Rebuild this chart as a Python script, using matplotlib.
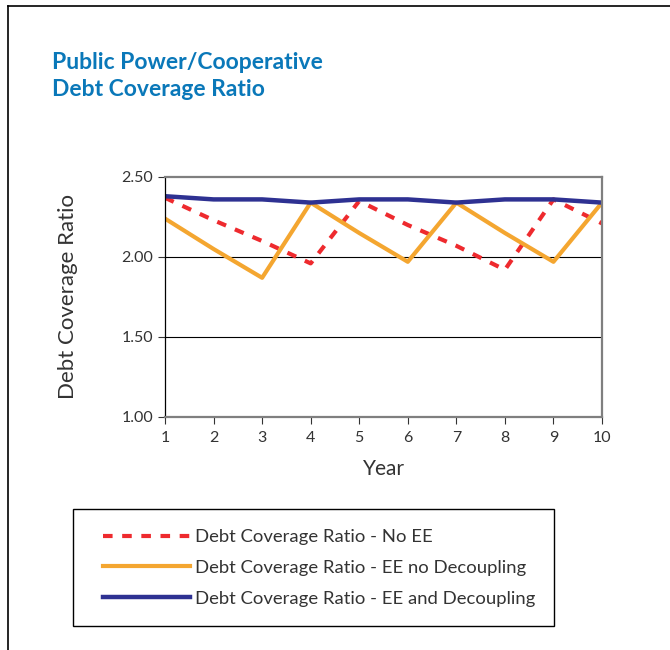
import matplotlib
matplotlib.use("Agg")
import matplotlib.pyplot as plt
from matplotlib.lines import Line2D
from matplotlib.patches import Rectangle

years = [1, 2, 3, 4, 5, 6, 7, 8, 9, 10]
no_ee = [2.37, 2.23, 2.10, 1.96, 2.35, 2.20, 2.07, 1.92, 2.36, 2.21]
ee_no_decoupling = [2.24, 2.05, 1.87, 2.34, 2.15, 1.97, 2.34, 2.15, 1.97, 2.34]
ee_decoupling = [2.38, 2.36, 2.36, 2.34, 2.36, 2.36, 2.34, 2.36, 2.36, 2.34]
y_ticks = [1.00, 1.50, 2.00, 2.50]
labels = ["Debt Coverage Ratio - No EE",
          "Debt Coverage Ratio - EE no Decoupling",
          "Debt Coverage Ratio - EE and Decoupling"]
title = "Public Power/Cooperative\nDebt Coverage Ratio"

plt.rcParams['font.family'] = ['Lato', 'DejaVu Sans']
W, H = 670, 650
fig = plt.figure(figsize=(W / 100, H / 100), dpi=100)

def fx(px):
    return px / W

def fy(py):
    return 1 - py / H

# outer frame (left and top)
fig.add_artist(Line2D([fx(8), fx(8)], [fy(6), 0], color='black', lw=1.2))
fig.add_artist(Line2D([fx(8), 1], [fy(6), fy(6)], color='black', lw=1.2))

fig.text(fx(52), fy(52), title, color='#0a78b9', fontsize=16.5, fontweight='bold',
         va='top', ha='left', linespacing=1.38)

ax = fig.add_axes([fx(165), fy(417), fx(602) - fx(165), (417 - 177) / H])
ax.plot(years, no_ee, color='#ee2a2e', lw=3, ls=(0, (2.3, 2.3)), label=labels[0])
ax.plot(years, ee_no_decoupling, color='#f4a630', lw=3, label=labels[1])
ax.plot(years, ee_decoupling, color='#2e3192', lw=3.2, label=labels[2])

ax.set_xlim(1, 10)
ax.set_ylim(1.0, 2.5)
ax.set_xticks(years)
ax.set_yticks(y_ticks)
ax.set_yticklabels([f"{v:.2f}" for v in y_ticks])
for v in y_ticks[1:3]:
    ax.axhline(v, color='black', lw=0.8, zorder=0)
ax.tick_params(labelsize=11.5, colors='#333333', length=5, width=0.8)
ax.tick_params(axis='x', pad=5)
for s in ['top', 'right', 'bottom']:
    ax.spines[s].set_color('#7f7f7f')
    ax.spines[s].set_linewidth(1.6)
ax.spines['left'].set_color('black')
ax.spines['left'].set_linewidth(0.9)
ax.set_xlabel("Year", fontsize=15, color='#333333', labelpad=10)
ax.set_ylabel("Debt Coverage Ratio", fontsize=16, color='#333333', labelpad=31)

# legend box
fig.add_artist(Rectangle((fx(73), fy(626)), fx(554) - fx(73), (626 - 509) / H,
                         transform=fig.transFigure, fill=False, edgecolor='black', lw=1.0))
handles, labs = ax.get_legend_handles_labels()
leg = fig.legend(handles, labs, loc='upper left',
                 bbox_to_anchor=(fx(103), fy(529)),
                 frameon=False, fontsize=13.3,
                 handlelength=4.7, handletextpad=0.3, borderpad=0, labelspacing=0.8,
                 labelcolor='#333333', borderaxespad=0)

fig.savefig("out.png", dpi=100)
